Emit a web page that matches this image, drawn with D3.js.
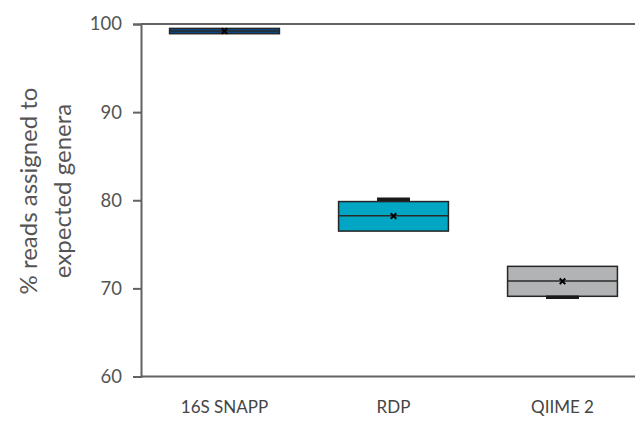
<!DOCTYPE html>
<html>
<head>
<meta charset="utf-8">
<script src="https://cdn.jsdelivr.net/npm/d3@7"></script>
<style>
  html, body { margin: 0; padding: 0; background: #fff; }
  svg { display: block; }
  text { font-family: Lato, "Open Sans", sans-serif; }
</style>
</head>
<body>
<svg id="chart" width="635" height="423"></svg>
<script>
const categories = ["16S SNAPP", "RDP", "QIIME 2"];
const whiskerMin = [98.9, 76.5, 69.0];
const q1 = [98.9, 76.5, 69.1];
const median = [99.2, 78.25, 70.85];
const q3 = [99.5, 79.85, 72.5];
const whiskerMax = [99.5, 80.1, 72.5];
const mean = [99.2, 78.2, 70.8];
const fills = ["#0b4b8c", "#00a6c3", "#b1b3b4"];
const yTicks = [60, 70, 80, 90, 100];
const yTitle = ["% reads assigned to", "expected genera"];

const svg = d3.select("#chart");
const W = 635, H = 423;
const plotLeft = 141, plotTop = 24, plotBottom = 376.5;

const y = d3.scaleLinear().domain([60, 100]).range([plotBottom, plotTop]);
const x = d3.scaleBand().domain(categories).range([140, 647])
  .paddingInner(0.35).paddingOuter(0.175);

const axisColor = "#626262";

// top frame line
svg.append("line")
  .attr("x1", plotLeft).attr("x2", W)
  .attr("y1", y(100)).attr("y2", y(100))
  .attr("stroke", axisColor).attr("stroke-width", 2);

// y axis
const yAxis = svg.append("g")
  .attr("transform", `translate(${plotLeft},0)`)
  .call(d3.axisLeft(y).tickValues(yTicks).tickSize(8).tickPadding(11).tickFormat(d3.format("d")));
yAxis.select(".domain").attr("stroke", axisColor).attr("stroke-width", 2);
yAxis.selectAll(".tick line").attr("stroke", axisColor).attr("stroke-width", 2);
yAxis.selectAll(".tick text")
  .attr("fill", "#555").style("font-size", "18.5px").style("font-family", "Lato, sans-serif");

// x axis
const xAxis = svg.append("g")
  .attr("transform", `translate(0,${plotBottom})`)
  .call(d3.axisBottom(x).tickSize(0).tickPadding(24));
xAxis.select(".domain").attr("d", `M${plotLeft},0H${W}`)
  .attr("stroke", axisColor).attr("stroke-width", 2);
xAxis.selectAll(".tick text")
  .attr("fill", "#444").style("font-size", "17px").style("font-family", "Lato, sans-serif");

// boxes
const data = categories.map((c, i) => ({
  c, lo: whiskerMin[i], q1: q1[i], med: median[i], q3: q3[i], hi: whiskerMax[i], mean: mean[i], fill: fills[i]
}));
const g = svg.append("g");
const bw = x.bandwidth();
const capW = bw * 0.3;

data.forEach(d => {
  const cx = x(d.c) + bw / 2;
  const grp = g.append("g");
  if (d.hi > d.q3) {
    grp.append("line").attr("x1", cx).attr("x2", cx).attr("y1", y(d.q3)).attr("y2", y(d.hi))
      .attr("stroke", "#222").attr("stroke-width", 1.5);
  }
  if (d.lo < d.q1) {
    grp.append("line").attr("x1", cx).attr("x2", cx).attr("y1", y(d.q1)).attr("y2", y(d.lo))
      .attr("stroke", "#222").attr("stroke-width", 1.5);
  }
  grp.append("rect")
    .attr("x", x(d.c)).attr("width", bw)
    .attr("y", y(d.q3)).attr("height", y(d.q1) - y(d.q3))
    .attr("fill", d.fill).attr("stroke", "#262626").attr("stroke-width", 1.5);
  grp.append("line").attr("x1", x(d.c)).attr("x2", x(d.c) + bw)
    .attr("y1", y(d.med)).attr("y2", y(d.med))
    .attr("stroke", "#2a2a2a").attr("stroke-width", 1.5);
  if (d.hi > d.q3) {
    grp.append("line").attr("x1", cx - capW / 2).attr("x2", cx + capW / 2)
      .attr("y1", y(d.hi)).attr("y2", y(d.hi))
      .attr("stroke", "#1a1a1a").attr("stroke-width", 3.5);
  }
  if (d.lo < d.q1) {
    grp.append("line").attr("x1", cx - capW / 2).attr("x2", cx + capW / 2)
      .attr("y1", y(d.lo)).attr("y2", y(d.lo))
      .attr("stroke", "#1a1a1a").attr("stroke-width", 3.5);
  }
  grp.append("path")
    .attr("d", d3.symbol().type(d3.symbolX).size(22)())
    .attr("transform", `translate(${cx},${y(d.mean)})`)
    .attr("stroke", "#000").attr("stroke-width", 2).attr("fill", "none");
});

// y title
const title = svg.append("text")
  .attr("transform", `translate(36.5,191) rotate(-90)`)
  .attr("text-anchor", "middle")
  .attr("fill", "#555")
  .style("font-size", "24px");
title.selectAll("tspan").data(yTitle).join("tspan")
  .attr("x", 0).attr("dy", (d, i) => i === 0 ? 0 : 34)
  .text(d => d);
</script>
</body>
</html>
